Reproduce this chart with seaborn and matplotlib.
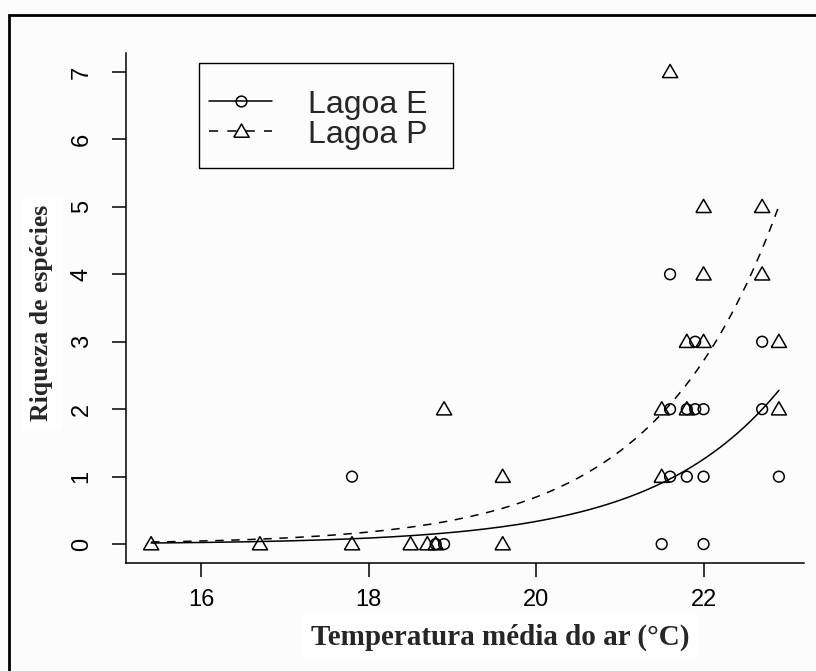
import numpy as np
import pandas as pd
import matplotlib
matplotlib.use("Agg")
import matplotlib.pyplot as plt
from matplotlib.lines import Line2D
from matplotlib.patches import Rectangle
import seaborn as sns

# Species richness vs. mean air temperature, two lagoons
temp_e = [17.8, 18.8, 18.9, 21.5, 22.0,
          21.6, 21.8, 22.0, 22.9,
          21.6, 21.8, 21.9, 22.0, 22.7,
          21.9, 22.7,
          21.6]
rich_e = [1, 0, 0, 0, 0,
          1, 1, 1, 1,
          2, 2, 2, 2, 2,
          3, 3,
          4]

temp_p = [15.4, 16.7, 17.8, 18.5, 18.7, 18.8, 19.6,
          19.6, 21.5,
          18.9, 21.5, 21.8, 22.9,
          21.8, 22.0, 22.9,
          22.0, 22.7,
          22.0, 22.7,
          21.6]
rich_p = [0, 0, 0, 0, 0, 0, 0,
          1, 1,
          2, 2, 2, 2,
          3, 3, 3,
          4, 4,
          5, 5,
          7]

# Poisson GLM (log link) coefficients: richness = exp(b0 + b1 * temp)
coef_e = (-14.29, 0.660)
coef_p = (-13.96, 0.680)
fit_range = (15.4, 22.9)

x_ticks = [16, 18, 20, 22]
y_ticks = [0, 1, 2, 3, 4, 5, 6, 7]
labels = ["Lagoa E", "Lagoa P"]

sns.set_style("ticks")
plt.rcParams["font.family"] = ["Liberation Sans", "DejaVu Sans"]

W, H = 816, 671
fig = plt.figure(figsize=(W / 100, H / 100), dpi=100, facecolor="#fcfcfc")
ax = fig.add_axes([126 / W, 1 - 563 / H, (804 - 126) / W, (563 - 53) / H])
ax.set_facecolor("#fcfcfc")

tri = [(-1.0, -0.75), (1.0, -0.75), (0.0, 0.98), (-1.0, -0.75)]

df_e = pd.DataFrame({"temp": temp_e, "rich": rich_e})
df_p = pd.DataFrame({"temp": temp_p, "rich": rich_p})

grid = np.linspace(fit_range[0], fit_range[1], 200)
curve = pd.DataFrame({
    "temp": grid,
    "fit_e": np.exp(coef_e[0] + coef_e[1] * grid),
    "fit_p": np.exp(coef_p[0] + coef_p[1] * grid),
})

sns.lineplot(data=curve, x="temp", y="fit_e", ax=ax, color="black", lw=1.1)
sns.lineplot(data=curve, x="temp", y="fit_p", ax=ax, color="black", lw=1.1,
             dashes=False, linestyle=(0, (5.5, 5)))

sns.scatterplot(data=df_e, x="temp", y="rich", ax=ax, marker="o", s=60,
                facecolor="none", edgecolor="black", linewidth=1.1, zorder=3)
sns.scatterplot(data=df_p, x="temp", y="rich", ax=ax, marker=tri, s=120,
                facecolor="none", edgecolor="black", linewidth=1.1, zorder=3)

ax.set_xlim(15.1, 23.2)
ax.set_ylim(-0.28, 7.28)
ax.set_xticks(x_ticks)
ax.set_yticks(y_ticks)
ax.set_xticklabels([str(t) for t in x_ticks], fontsize=17)
ax.set_yticklabels([str(t) for t in y_ticks], fontsize=17, rotation=90,
                   va="center")
ax.tick_params(axis="x", length=10, width=1.1, pad=9, colors="black")
ax.tick_params(axis="y", length=10, width=1.1, pad=14, colors="black")
for side in ("top", "right"):
    ax.spines[side].set_visible(False)
for side in ("left", "bottom"):
    ax.spines[side].set_linewidth(1.1)
    ax.spines[side].set_color("black")

label_box = dict(facecolor="white", edgecolor="none", pad=6)
ax.set_xlabel("Temperatura média do ar (°C)", family=["Liberation Serif"],
              fontweight="bold", fontsize=21, va="center", bbox=label_box)
ax.xaxis.set_label_coords((500 - 126) / 678, (563 - 637) / 510)
ax.set_ylabel("Riqueza de espécies", family=["Liberation Serif"],
              fontweight="bold", fontsize=18.5, va="center", bbox=label_box)
ax.yaxis.set_label_coords((42 - 126) / 678, (563 - 313) / 510)

# Legend
handles = [
    Line2D([], [], color="black", lw=1.1, marker="o", ms=7.7,
           mfc="none", mec="black", mew=1.1),
    Line2D([], [], color="black", lw=1.1, linestyle=(0, (6, 6)),
           marker=tri, ms=11, mfc="none", mec="black", mew=1.1),
]
leg = fig.legend(handles, labels, loc="upper left",
                 bbox_to_anchor=(199 / W, 1 - 80 / H),
                 bbox_transform=fig.transFigure, frameon=False,
                 fontsize=23, handlelength=2.0, handletextpad=1.1,
                 labelspacing=0.0, borderpad=0.3, borderaxespad=0)
fig.patches.append(Rectangle((199 / W, 1 - 168 / H), (453 - 199) / W,
                             (168 - 63) / H, transform=fig.transFigure,
                             fill=False, edgecolor="black", lw=1.0))

# Outer border
fig.patches.append(Rectangle((9 / W, -0.05), 1.2, 1 - 15 / H + 0.05,
                             transform=fig.transFigure, fill=False,
                             edgecolor="black", lw=2.0))

fig.savefig("out.png", dpi=100, facecolor=fig.get_facecolor())
